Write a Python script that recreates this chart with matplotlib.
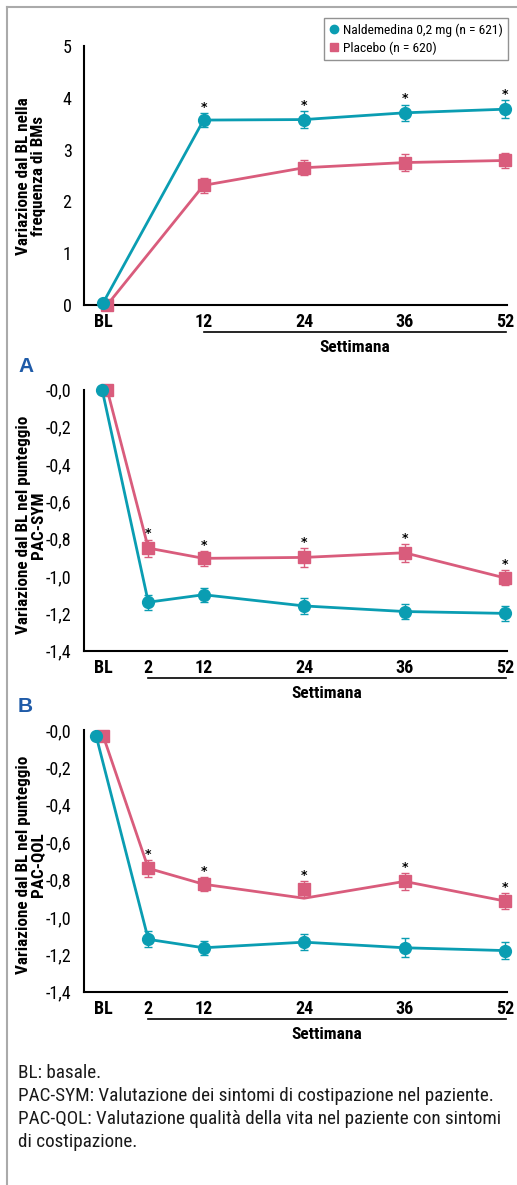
import numpy as np
import matplotlib
matplotlib.use('Agg')
import matplotlib.pyplot as plt
from matplotlib.lines import Line2D
from matplotlib import font_manager
import matplotlib.transforms as mtransforms

# pick a narrow sans if one is installed, otherwise Liberation Sans shrunk a bit
names = {f.name for f in font_manager.fontManager.ttflist}
NARROW = None
for cand in ['Liberation Sans Narrow', 'Roboto Condensed', 'Open Sans Condensed',
             'Arial Narrow', 'DejaVu Sans Condensed']:
    if cand in names:
        NARROW = cand
        break
if NARROW is None:
    NARROW = 'Liberation Sans'
    K = 0.84
else:
    K = 1.0
plt.rcParams['font.family'] = [NARROW, 'DejaVu Sans']

# data
top_labels = ['BL', '12', '24', '36', '52']
top_nald = [0.04, 3.57, 3.58, 3.71, 3.78]
top_nald_err = [0, 0.13, 0.16, 0.16, 0.17]
top_plac = [0.0, 2.31, 2.65, 2.75, 2.79]
top_plac_err = [0, 0.14, 0.14, 0.16, 0.15]

ab_labels = ['BL', '2', '12', '24', '36', '52']
a_nald = [0.0, -1.14, -1.10, -1.16, -1.19, -1.20]
a_nald_err = [0, 0.04, 0.037, 0.045, 0.042, 0.041]
a_plac = [0.0, -0.85, -0.905, -0.90, -0.875, -1.01]
a_plac_err = [0, 0.046, 0.04, 0.049, 0.048, 0.04]

b_nald = [-0.03, -1.12, -1.165, -1.135, -1.165, -1.18]
b_nald_err = [0, 0.043, 0.038, 0.043, 0.05, 0.045]
b_plac = [-0.03, -0.74, -0.825, -0.85, -0.81, -0.915]
b_plac_line = [-0.03, -0.74, -0.825, -0.90, -0.81, -0.915]  # line misses the marker at wk 24
b_plac_err = [0, 0.045, 0.038, 0.043, 0.047, 0.041]

legend_labels = ['Naldemedina 0,2 mg (n = 621)', 'Placebo (n = 620)']
footer = ['BL: basale.',
          'PAC-SYM: Valutazione dei sintomi di costipazione nel paziente.',
          'PAC-QOL: Valutazione qualità della vita nel paziente con sintomi',
          'di costipazione.']

TEAL = '#0a9db2'
PINK = '#d95c7c'
W, H = 517, 1185

fig = plt.figure(figsize=(W / 100, H / 100), dpi=100)


def px_axes(left, top, right, bottom):
    return fig.add_axes([left / W, 1 - bottom / H, (right - left) / W, (bottom - top) / H])


def panel(ax, pos, labels, nald, nald_err, plac, plac_err, plac_line, star_series,
          bl_off, ylim, yticks, yticklabels, bracket_from):
    nx = list(pos)
    nx[0] = pos[0] + bl_off[0]
    px = list(pos)
    px[0] = pos[0] + bl_off[1]

    ax.errorbar(px, plac, yerr=plac_err, fmt='none', ecolor=PINK, elinewidth=1,
                capsize=3, capthick=1, clip_on=False, zorder=2)
    ax.plot(px, plac_line, color=PINK, lw=2, clip_on=False, zorder=3)
    ax.plot(px, plac, color=PINK, lw=0, marker='s', ms=8.5, clip_on=False, zorder=3)
    ax.errorbar(nx, nald, yerr=nald_err, fmt='none', ecolor=TEAL, elinewidth=1,
                capsize=3, capthick=1, clip_on=False, zorder=4)
    ax.plot(nx, nald, color=TEAL, lw=2, marker='o', ms=8.5, clip_on=False, zorder=5)

    # significance stars above upper error bar
    sy, se = star_series
    for i in range(1, len(pos)):
        ax.annotate('*', xy=(pos[i], sy[i] + se[i]), xytext=(0, 4),
                    textcoords='offset points', ha='center', va='center',
                    fontsize=9, fontweight='bold', family=['DejaVu Sans'])

    ax.set_xlim(-0.19, 4.02)
    ax.set_ylim(*ylim)
    ax.set_xticks(pos)
    ax.set_xticklabels(labels, fontsize=13 * K, fontweight='bold')
    ax.set_yticks(yticks)
    ax.set_yticklabels(yticklabels, fontsize=13 * K)
    ax.tick_params(length=0)
    ax.tick_params(axis='y', pad=9)
    ax.tick_params(axis='x', pad=6)
    for s in ['top', 'right']:
        ax.spines[s].set_visible(False)
    for s in ['left', 'bottom']:
        ax.spines[s].set_linewidth(1.5)

    # "Settimana" bracket under the week labels
    tr = mtransforms.blended_transform_factory(ax.transData, ax.transAxes)
    ax.plot([bracket_from, 4.01], [-0.105, -0.105], color='k', lw=1.2,
            transform=tr, clip_on=False)
    ax.text((bracket_from + 4.01) / 2, -0.165, 'Settimana', transform=tr,
            ha='center', va='center', fontsize=12.5 * K, fontweight='bold')
    ax.patch.set_alpha(0)


def ylabel(ypx, txt):
    fig.text(31 / W, 1 - ypx / H, txt, rotation=90, ha='center', va='center',
             fontsize=12.3 * K, fontweight='bold', linespacing=1.0,
             multialignment='center')


top_pos = [0, 1, 2, 3, 4]
ab_pos = [0, 0.45, 1, 2, 3, 4]

ax1 = px_axes(84, 46, 507, 305)
panel(ax1, top_pos, top_labels, top_nald, top_nald_err, top_plac, top_plac_err, top_plac,
      (top_nald, top_nald_err), (0, 0.04), (0, 5), [0, 1, 2, 3, 4, 5],
      ['0', '1', '2', '3', '4', '5'], 1)
ylabel(176, 'Variazione dal BL nella\nfrequenza di BMs')

ab_ticks = [0, -0.2, -0.4, -0.6, -0.8, -1.0, -1.2, -1.4]
ab_ticklabels = ['-0,0', '-0,2', '-0,4', '-0,6', '-0,8', '-1,0', '-1,2', '-1,4']

ax2 = px_axes(84, 389.5, 507, 650.7)
panel(ax2, ab_pos, ab_labels, a_nald, a_nald_err, a_plac, a_plac_err, a_plac,
      (a_plac, a_plac_err), (-0.01, 0.04), (-1.4, 0), ab_ticks, ab_ticklabels, 0.45)
ylabel(525, 'Variazione dal BL nel punteggio\nPAC-SYM')
fig.text(18 / W, 1 - 367 / H, 'A', ha='left', va='center', fontsize=15,
         fontweight='bold', color='#1f5ba8', family=['Liberation Sans', 'DejaVu Sans'])

ax3 = px_axes(84, 730, 507, 991.7)
panel(ax3, ab_pos, ab_labels, b_nald, b_nald_err, b_plac, b_plac_err, b_plac_line,
      (b_plac, b_plac_err), (-0.07, 0.0), (-1.4, 0), ab_ticks, ab_ticklabels, 0.45)
ylabel(865, 'Variazione dal BL nel punteggio\nPAC-QOL')
fig.text(18 / W, 1 - 707 / H, 'B', ha='left', va='center', fontsize=15,
         fontweight='bold', color='#1f5ba8', family=['Liberation Sans', 'DejaVu Sans'])

# legend, boxed in the top right corner
handles = [Line2D([], [], color=TEAL, marker='o', lw=0, ms=6),
           Line2D([], [], color=PINK, marker='s', lw=0, ms=6)]
leg = fig.legend(handles, legend_labels, loc='upper right',
                 bbox_to_anchor=(508 / W, 1 - 18 / H), fontsize=9.7 * K, frameon=True,
                 fancybox=False, edgecolor='#777777', handlelength=0.7,
                 handletextpad=0.3, borderpad=0.4, labelspacing=0.35,
                 borderaxespad=0)
leg.get_frame().set_linewidth(1)

# footer notes
for i, line in enumerate(footer):
    fig.text(18 / W, 1 - (1078 + 23 * i) / H, line, ha='left', va='baseline',
             fontsize=13.8 * K, color='#1a1a1a')

# page border (top and left only)
fig.add_artist(Line2D([7 / W, 1], [1 - 7 / H, 1 - 7 / H], color='#aaaaaa', lw=1.5))
fig.add_artist(Line2D([7 / W, 7 / W], [0, 1 - 7 / H], color='#aaaaaa', lw=1.5))

fig.savefig('out.png', dpi=100)
